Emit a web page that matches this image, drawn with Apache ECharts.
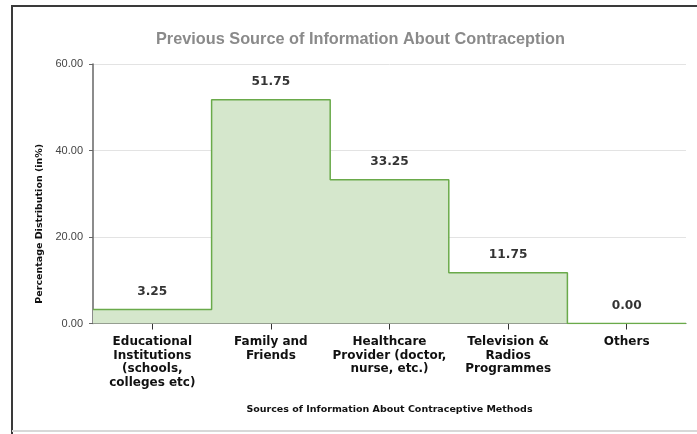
<!DOCTYPE html>
<html>
<head>
<meta charset="utf-8">
<script src="https://cdn.jsdelivr.net/npm/echarts@6/dist/echarts.min.js"></script>
<style>
  html, body { margin: 0; padding: 0; background: #fff; }
  #chart { width: 697px; height: 434px; }
</style>
</head>
<body>
<div id="chart"></div>
<script>
// Sources of information and their percentage share
const categories = [
  'Educational\nInstitutions\n(schools,\ncolleges etc)',
  'Family and\nFriends',
  'Healthcare\nProvider (doctor,\nnurse, etc.)',
  'Television &\nRadios\nProgrammes',
  'Others'
];
const percentages = [3.25, 51.75, 33.25, 11.75, 0.00];
const yTicks = [0, 20, 40, 60];

// Step outline: one point per category centre, plus the two outer edges
const stepPoints = [[-0.5, percentages[0]]];
percentages.forEach((v, i) => stepPoints.push([i, v]));
stepPoints.push([percentages.length - 0.5, percentages[percentages.length - 1]]);

const chart = echarts.init(document.getElementById('chart'));
chart.setOption({
  animation: false,
  backgroundColor: '#fff',
  title: {
    text: 'Previous Source of Information About Contraception',
    left: 151,
    top: 27,
    textStyle: { fontFamily: 'Liberation Sans', fontSize: 16.3, fontWeight: 'bold', color: '#8a8a8a' }
  },
  grid: { left: 93, right: 11, top: 64, bottom: 110.5 },
  xAxis: [
    {
      type: 'category',
      data: categories,
      boundaryGap: true,
      name: 'Sources of Information About Contraceptive Methods',
      nameLocation: 'middle',
      nameGap: 81,
      nameTextStyle: { fontFamily: 'DejaVu Sans', fontWeight: 'bold', fontSize: 9.5, color: '#111' },
      axisLine: { show: true, lineStyle: { color: '#555', width: 1 } },
      axisTick: { show: true, alignWithLabel: true, length: 6, lineStyle: { color: '#333' } },
      axisLabel: {
        interval: 0,
        margin: 12,
        fontFamily: 'DejaVu Sans',
        fontWeight: 'bold',
        fontSize: 12,
        lineHeight: 13.4,
        color: '#111'
      },
      splitLine: { show: false }
    },
    {
      type: 'value',
      min: -0.5,
      max: percentages.length - 0.5,
      show: false
    }
  ],
  yAxis: {
    type: 'value',
    min: 0,
    max: 60,
    interval: 20,
    name: 'Percentage Distribution (in%)',
    nameLocation: 'middle',
    nameGap: 47,
    nameTextStyle: { fontFamily: 'DejaVu Sans', fontWeight: 'bold', fontSize: 9.5, color: '#111', padding: [0, 60, 0, 0] },
    axisLine: { show: true, onZero: false, lineStyle: { color: '#666', width: 1.5 } },
    axisTick: { show: true, length: 4, lineStyle: { color: '#666' } },
    axisLabel: {
      margin: 10,
      fontFamily: 'Liberation Sans',
      fontSize: 11,
      color: '#444',
      formatter: v => yTicks.includes(v) ? v.toFixed(2) : ''
    },
    splitLine: { show: true, lineStyle: { color: '#e3e3e3', width: 1 } }
  },
  series: [
    {
      type: 'line',
      xAxisIndex: 1,
      step: 'middle',
      data: stepPoints,
      symbol: 'none',
      lineStyle: { color: '#6aaa4a', width: 1.5 },
      areaStyle: { color: '#d5e7cc', opacity: 1 },
      z: 3
    },
    {
      // value labels above each step
      type: 'scatter',
      xAxisIndex: 0,
      data: percentages,
      symbolSize: 1,
      itemStyle: { color: 'rgba(0,0,0,0)' },
      silent: true,
      label: {
        show: true,
        position: 'top',
        distance: 11,
        fontFamily: 'DejaVu Sans',
        fontWeight: 'bold',
        fontSize: 12.2,
        color: '#000',
        formatter: p => Number(p.value).toFixed(2)
      },
      z: 4
    }
  ],
  graphic: [
    { type: 'line', shape: { x1: 12, y1: 6, x2: 697, y2: 6 }, style: { stroke: '#3a3a3a', lineWidth: 2 } },
    { type: 'line', shape: { x1: 12, y1: 5, x2: 12, y2: 434 }, style: { stroke: '#3a3a3a', lineWidth: 2 } },
    { type: 'line', shape: { x1: 12, y1: 431, x2: 697, y2: 431 }, style: { stroke: '#d8d8d8', lineWidth: 2 } }
  ]
});
</script>
</body>
</html>
